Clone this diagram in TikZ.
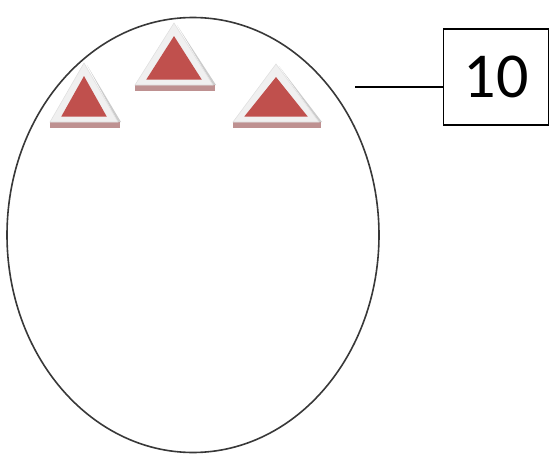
\documentclass[tikz,border=0pt]{standalone}
\usepackage{fontspec}
\setmainfont{Carlito}
\usetikzlibrary{shapes.geometric}
\begin{document}
\begin{tikzpicture}[x=1pt,y=-1pt,
  outline/.style={draw=black!78,line width=1.6pt},
  labelbox/.style={draw=black,line width=1.2pt,fill=white,minimum width=105pt,minimum height=96pt,inner sep=0pt,font=\fontsize{64}{64}\selectfont},
  tririm/.style={fill=black!6,draw=black!12,line width=0.6pt},
  trishadow/.style={fill=black!20},
  tribar/.style={fill={rgb,255:red,190;green,145;blue,145}},
  trired/.style={fill={rgb,255:red,192;green,80;blue,77}}]
\useasboundingbox (0,0) rectangle (550,455);
% ellipse
\node[outline,ellipse,minimum width=372pt,minimum height=435pt,inner sep=0pt] (egg) at (193,235) {};
% label box
\node[labelbox] (lbl) at (496,77) {10};
\coordinate (lineend) at (355,87);
\draw[line width=1.4pt] (lineend) -- (lbl.west |- lineend);
% triangles: #1 left x, #2 right x, #3 apex y, #4 base y, red inset
\newcommand{\drawtri}[5]{%
  \fill[trishadow] ({(#1+#2)/2+3},{#3+2}) -- ({#2+3},#4) -- (#2,#4) -- cycle;
  \fill[tribar] (#1,#4) rectangle ({#2+2},{#4+6});
  \filldraw[tririm] ({(#1+#2)/2},#3) -- (#2,#4) -- (#1,#4) -- cycle;
  \fill[trired] ({(#1+#2)/2},{#3+#5*1.45}) -- ({#2-#5*1.25},{#4-#5*0.6}) -- ({#1+#5*1.25},{#4-#5*0.6}) -- cycle;
}
\drawtri{50}{118}{63}{122}{9}
\drawtri{135}{213}{23}{85}{9}
\drawtri{233}{319}{64}{122}{9}
\end{tikzpicture}
\end{document}
